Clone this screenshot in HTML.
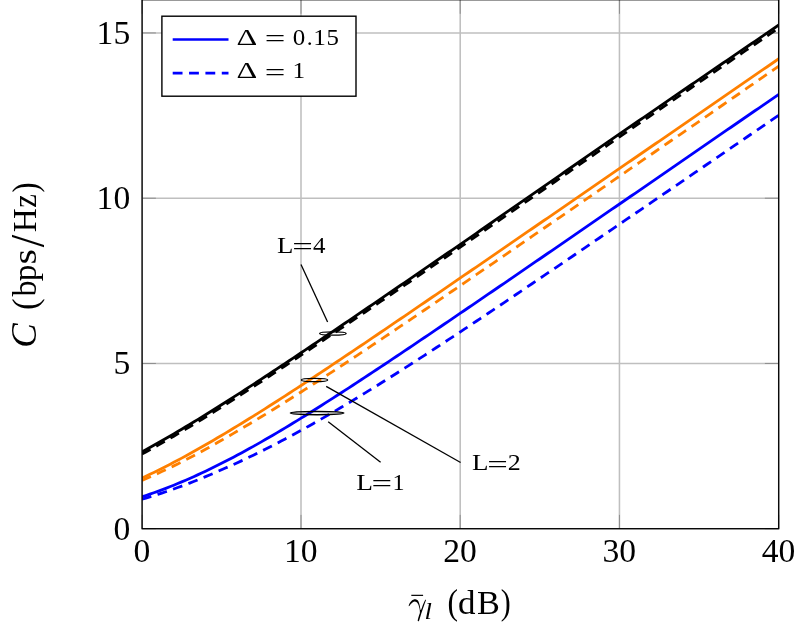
<!DOCTYPE html>
<html><head><meta charset="utf-8"><title>Capacity</title>
<style>
html,body{margin:0;padding:0;background:#fff;}
svg{display:block;will-change:transform;}
svg text{font-family:"Liberation Serif",serif;fill:#000;}
</style></head><body>
<svg width="806" height="634" viewBox="0 0 806 634">
<rect x="0" y="0" width="806" height="634" fill="#fff"/>
<g>
<line x1="142.10" y1="0" x2="142.10" y2="528.70" stroke="#bfbfbf" stroke-width="1.55"/>
<line x1="301.00" y1="0" x2="301.00" y2="528.70" stroke="#bfbfbf" stroke-width="1.55"/>
<line x1="460.20" y1="0" x2="460.20" y2="528.70" stroke="#bfbfbf" stroke-width="1.55"/>
<line x1="619.45" y1="0" x2="619.45" y2="528.70" stroke="#bfbfbf" stroke-width="1.55"/>
<line x1="778.70" y1="0" x2="778.70" y2="528.70" stroke="#bfbfbf" stroke-width="1.55"/>
<line x1="142.10" y1="528.70" x2="778.70" y2="528.70" stroke="#bfbfbf" stroke-width="1.55"/>
<line x1="142.10" y1="363.45" x2="778.70" y2="363.45" stroke="#bfbfbf" stroke-width="1.55"/>
<line x1="142.10" y1="198.20" x2="778.70" y2="198.20" stroke="#bfbfbf" stroke-width="1.55"/>
<line x1="142.10" y1="32.95" x2="778.70" y2="32.95" stroke="#bfbfbf" stroke-width="1.55"/>
</g>
<g>
<line x1="142.10" y1="528.70" x2="142.10" y2="514.90" stroke="#808080" stroke-width="0.8"/>
<line x1="142.10" y1="0" x2="142.10" y2="13.80" stroke="#808080" stroke-width="0.8"/>
<line x1="301.00" y1="528.70" x2="301.00" y2="514.90" stroke="#808080" stroke-width="0.8"/>
<line x1="301.00" y1="0" x2="301.00" y2="13.80" stroke="#808080" stroke-width="0.8"/>
<line x1="460.20" y1="528.70" x2="460.20" y2="514.90" stroke="#808080" stroke-width="0.8"/>
<line x1="460.20" y1="0" x2="460.20" y2="13.80" stroke="#808080" stroke-width="0.8"/>
<line x1="619.45" y1="528.70" x2="619.45" y2="514.90" stroke="#808080" stroke-width="0.8"/>
<line x1="619.45" y1="0" x2="619.45" y2="13.80" stroke="#808080" stroke-width="0.8"/>
<line x1="778.70" y1="528.70" x2="778.70" y2="514.90" stroke="#808080" stroke-width="0.8"/>
<line x1="778.70" y1="0" x2="778.70" y2="13.80" stroke="#808080" stroke-width="0.8"/>
<line x1="142.10" y1="528.70" x2="155.90" y2="528.70" stroke="#808080" stroke-width="0.8"/>
<line x1="778.70" y1="528.70" x2="764.90" y2="528.70" stroke="#808080" stroke-width="0.8"/>
<line x1="142.10" y1="363.45" x2="155.90" y2="363.45" stroke="#808080" stroke-width="0.8"/>
<line x1="778.70" y1="363.45" x2="764.90" y2="363.45" stroke="#808080" stroke-width="0.8"/>
<line x1="142.10" y1="198.20" x2="155.90" y2="198.20" stroke="#808080" stroke-width="0.8"/>
<line x1="778.70" y1="198.20" x2="764.90" y2="198.20" stroke="#808080" stroke-width="0.8"/>
<line x1="142.10" y1="32.95" x2="155.90" y2="32.95" stroke="#808080" stroke-width="0.8"/>
<line x1="778.70" y1="32.95" x2="764.90" y2="32.95" stroke="#808080" stroke-width="0.8"/>
</g>
<defs><clipPath id="c"><rect x="142.10" y="0" width="636.60" height="528.70"/></clipPath></defs>
<g clip-path="url(#c)" stroke-linejoin="round">
<path d="M141.90,496.87 L145.88,495.55 L149.86,494.18 L153.84,492.78 L157.82,491.34 L161.80,489.86 L165.78,488.35 L169.76,486.79 L173.75,485.20 L177.73,483.57 L181.71,481.91 L185.69,480.21 L189.67,478.47 L193.65,476.70 L197.63,474.90 L201.61,473.06 L205.59,471.18 L209.57,469.28 L213.55,467.34 L217.53,465.37 L221.51,463.37 L225.49,461.34 L229.47,459.28 L233.45,457.19 L237.44,455.08 L241.42,452.94 L245.40,450.77 L249.38,448.58 L253.36,446.36 L257.34,444.12 L261.32,441.86 L265.30,439.57 L269.28,437.27 L273.26,434.94 L277.24,432.60 L281.22,430.23 L285.20,427.85 L289.18,425.45 L293.16,423.03 L297.14,420.60 L301.12,418.15 L305.11,415.69 L309.09,413.22 L313.07,410.73 L317.05,408.22 L321.03,405.71 L325.01,403.18 L328.99,400.65 L332.97,398.10 L336.95,395.54 L340.93,392.97 L344.91,390.40 L348.89,387.81 L352.87,385.22 L356.85,382.62 L360.83,380.01 L364.82,377.39 L368.80,374.77 L372.78,372.14 L376.76,369.51 L380.74,366.87 L384.72,364.22 L388.70,361.57 L392.68,358.91 L396.66,356.25 L400.64,353.58 L404.62,350.91 L408.60,348.24 L412.58,345.56 L416.56,342.88 L420.54,340.20 L424.52,337.51 L428.50,334.82 L432.49,332.13 L436.47,329.43 L440.45,326.73 L444.43,324.03 L448.41,321.33 L452.39,318.62 L456.37,315.91 L460.35,313.20 L464.33,310.49 L468.31,307.78 L472.29,305.06 L476.27,302.35 L480.25,299.63 L484.23,296.91 L488.21,294.19 L492.19,291.47 L496.18,288.74 L500.16,286.02 L504.14,283.29 L508.12,280.57 L512.10,277.84 L516.08,275.11 L520.06,272.38 L524.04,269.65 L528.02,266.92 L532.00,264.19 L535.98,261.46 L539.96,258.73 L543.94,255.99 L547.92,253.26 L551.90,250.53 L555.88,247.79 L559.87,245.06 L563.85,242.32 L567.83,239.59 L571.81,236.85 L575.79,234.11 L579.77,231.38 L583.75,228.64 L587.73,225.90 L591.71,223.16 L595.69,220.42 L599.67,217.69 L603.65,214.95 L607.63,212.21 L611.61,209.47 L615.59,206.73 L619.58,203.99 L623.56,201.25 L627.54,198.51 L631.52,195.77 L635.50,193.03 L639.48,190.29 L643.46,187.55 L647.44,184.81 L651.42,182.07 L655.40,179.32 L659.38,176.58 L663.36,173.84 L667.34,171.10 L671.32,168.36 L675.30,165.62 L679.28,162.88 L683.26,160.13 L687.25,157.39 L691.23,154.65 L695.21,151.91 L699.19,149.17 L703.17,146.42 L707.15,143.68 L711.13,140.94 L715.11,138.20 L719.09,135.46 L723.07,132.71 L727.05,129.97 L731.03,127.23 L735.01,124.49 L738.99,121.74 L742.97,119.00 L746.96,116.26 L750.94,113.52 L754.92,110.77 L758.90,108.03 L762.88,105.29 L766.86,102.54 L770.84,99.80 L774.82,97.06 L778.80,94.32" fill="none" stroke="#0000ff" stroke-width="2.8"/>
<path d="M141.90,499.25 L145.88,498.08 L149.86,496.88 L153.84,495.64 L157.82,494.37 L161.80,493.07 L165.78,491.74 L169.76,490.37 L173.75,488.98 L177.73,487.55 L181.71,486.09 L185.69,484.59 L189.67,483.07 L193.65,481.51 L197.63,479.93 L201.61,478.31 L205.59,476.66 L209.57,474.98 L213.55,473.27 L217.53,471.53 L221.51,469.76 L225.49,468.04 L229.47,466.28 L233.45,464.50 L237.44,462.69 L241.42,460.86 L245.40,458.99 L249.38,457.10 L253.36,455.19 L257.34,453.24 L261.32,451.28 L265.30,449.29 L269.28,447.27 L273.26,445.23 L277.24,443.17 L281.22,441.08 L285.20,438.98 L289.18,436.85 L293.16,434.70 L297.14,432.53 L301.12,430.34 L305.11,428.14 L309.09,425.92 L313.07,423.68 L317.05,421.42 L321.03,419.14 L325.01,416.85 L328.99,414.54 L332.97,412.22 L336.95,409.88 L340.93,407.53 L344.91,405.16 L348.89,402.78 L352.87,400.38 L356.85,397.97 L360.83,395.55 L364.82,393.12 L368.80,390.68 L372.78,388.23 L376.76,385.75 L380.74,383.26 L384.72,380.76 L388.70,378.25 L392.68,375.73 L396.66,373.20 L400.64,370.67 L404.62,368.13 L408.60,365.57 L412.58,363.01 L416.56,360.45 L420.54,357.88 L424.52,355.30 L428.50,352.71 L432.49,350.12 L436.47,347.52 L440.45,344.91 L444.43,342.30 L448.41,339.69 L452.39,337.07 L456.37,334.44 L460.35,331.81 L464.33,329.17 L468.31,326.52 L472.29,323.87 L476.27,321.22 L480.25,318.56 L484.23,315.90 L488.21,313.23 L492.19,310.57 L496.18,307.90 L500.16,305.22 L504.14,302.54 L508.12,299.86 L512.10,297.18 L516.08,294.50 L520.06,291.81 L524.04,289.12 L528.02,286.43 L532.00,283.74 L535.98,281.04 L539.96,278.35 L543.94,275.65 L547.92,272.95 L551.90,270.25 L555.88,267.54 L559.87,264.84 L563.85,262.13 L567.83,259.43 L571.81,256.72 L575.79,254.01 L579.77,251.30 L583.75,248.59 L587.73,245.88 L591.71,243.16 L595.69,240.45 L599.67,237.73 L603.65,235.02 L607.63,232.30 L611.61,229.58 L615.59,226.87 L619.58,224.15 L623.56,221.43 L627.54,218.71 L631.52,215.99 L635.50,213.27 L639.48,210.55 L643.46,207.83 L647.44,205.11 L651.42,202.39 L655.40,199.67 L659.38,196.95 L663.36,194.22 L667.34,191.50 L671.32,188.78 L675.30,186.05 L679.28,183.33 L683.26,180.61 L687.25,177.88 L691.23,175.16 L695.21,172.43 L699.19,169.71 L703.17,166.98 L707.15,164.26 L711.13,161.53 L715.11,158.81 L719.09,156.08 L723.07,153.36 L727.05,150.63 L731.03,147.90 L735.01,145.18 L738.99,142.45 L742.97,139.73 L746.96,137.00 L750.94,134.27 L754.92,131.55 L758.90,128.82 L762.88,126.09 L766.86,123.36 L770.84,120.64 L774.82,117.91 L778.80,115.18" fill="none" stroke="#0000ff" stroke-width="2.8" stroke-dasharray="9.82 6.54"/>
<path d="M141.90,478.02 L145.88,476.18 L149.86,474.30 L153.84,472.39 L157.82,470.45 L161.80,468.47 L165.78,466.46 L169.76,464.42 L173.75,462.35 L177.73,460.25 L181.71,458.12 L185.69,455.97 L189.67,453.78 L193.65,451.57 L197.63,449.34 L201.61,447.08 L205.59,444.80 L209.57,442.49 L213.55,440.17 L217.53,437.82 L221.51,435.45 L225.49,433.09 L229.47,430.71 L233.45,428.31 L237.44,425.90 L241.42,423.47 L245.40,421.02 L249.38,418.56 L253.36,416.08 L257.34,413.59 L261.32,411.09 L265.30,408.58 L269.28,406.05 L273.26,403.51 L277.24,400.97 L281.22,398.41 L285.20,395.84 L289.18,393.26 L293.16,390.68 L297.14,388.08 L301.12,385.48 L305.11,382.87 L309.09,380.25 L313.07,377.63 L317.05,375.00 L321.03,372.36 L325.01,369.72 L328.99,367.07 L332.97,364.42 L336.95,361.76 L340.93,359.10 L344.91,356.44 L348.89,353.77 L352.87,351.09 L356.85,348.41 L360.83,345.73 L364.82,343.05 L368.80,340.36 L372.78,337.67 L376.76,334.97 L380.74,332.27 L384.72,329.58 L388.70,326.87 L392.68,324.17 L396.66,321.46 L400.64,318.75 L404.62,316.04 L408.60,313.33 L412.58,310.62 L416.56,307.90 L420.54,305.19 L424.52,302.47 L428.50,299.75 L432.49,297.03 L436.47,294.31 L440.45,291.58 L444.43,288.86 L448.41,286.13 L452.39,283.41 L456.37,280.68 L460.35,277.95 L464.33,275.22 L468.31,272.49 L472.29,269.76 L476.27,267.03 L480.25,264.30 L484.23,261.56 L488.21,258.83 L492.19,256.10 L496.18,253.36 L500.16,250.63 L504.14,247.89 L508.12,245.16 L512.10,242.42 L516.08,239.68 L520.06,236.95 L524.04,234.21 L528.02,231.47 L532.00,228.74 L535.98,226.00 L539.96,223.26 L543.94,220.52 L547.92,217.78 L551.90,215.04 L555.88,212.30 L559.87,209.56 L563.85,206.82 L567.83,204.08 L571.81,201.34 L575.79,198.60 L579.77,195.86 L583.75,193.12 L587.73,190.38 L591.71,187.64 L595.69,184.90 L599.67,182.16 L603.65,179.42 L607.63,176.68 L611.61,173.93 L615.59,171.19 L619.58,168.45 L623.56,165.71 L627.54,162.97 L631.52,160.23 L635.50,157.48 L639.48,154.74 L643.46,152.00 L647.44,149.26 L651.42,146.52 L655.40,143.77 L659.38,141.03 L663.36,138.29 L667.34,135.55 L671.32,132.80 L675.30,130.06 L679.28,127.32 L683.26,124.58 L687.25,121.83 L691.23,119.09 L695.21,116.35 L699.19,113.61 L703.17,110.86 L707.15,108.12 L711.13,105.38 L715.11,102.64 L719.09,99.89 L723.07,97.15 L727.05,94.41 L731.03,91.67 L735.01,88.92 L738.99,86.18 L742.97,83.44 L746.96,80.69 L750.94,77.95 L754.92,75.21 L758.90,72.47 L762.88,69.72 L766.86,66.98 L770.84,64.24 L774.82,61.49 L778.80,58.75" fill="none" stroke="#ff8000" stroke-width="2.8"/>
<path d="M141.90,480.50 L145.88,478.78 L149.86,477.03 L153.84,475.25 L157.82,473.44 L161.80,471.60 L165.78,469.72 L169.76,467.81 L173.75,465.88 L177.73,463.91 L181.71,461.92 L185.69,459.90 L189.67,457.85 L193.65,455.74 L197.63,453.61 L201.61,451.45 L205.59,449.27 L209.57,447.06 L213.55,444.83 L217.53,442.58 L221.51,440.31 L225.49,438.01 L229.47,435.69 L233.45,433.35 L237.44,431.00 L241.42,428.67 L245.40,426.33 L249.38,423.97 L253.36,421.60 L257.34,419.21 L261.32,416.80 L265.30,414.37 L269.28,411.94 L273.26,409.48 L277.24,407.02 L281.22,404.54 L285.20,402.05 L289.18,399.54 L293.16,397.03 L297.14,394.50 L301.12,391.96 L305.11,389.42 L309.09,386.86 L313.07,384.30 L317.05,381.72 L321.03,379.14 L325.01,376.55 L328.99,373.95 L332.97,371.34 L336.95,368.73 L340.93,366.11 L344.91,363.48 L348.89,360.85 L352.87,358.21 L356.85,355.57 L360.83,352.92 L364.82,350.27 L368.80,347.61 L372.78,344.95 L376.76,342.28 L380.74,339.61 L384.72,336.93 L388.70,334.25 L392.68,331.57 L396.66,328.89 L400.64,326.20 L404.62,323.51 L408.60,320.81 L412.58,318.12 L416.56,315.42 L420.54,312.71 L424.52,310.01 L428.50,307.30 L432.49,304.59 L436.47,301.88 L440.45,299.17 L444.43,296.46 L448.41,293.74 L452.39,291.02 L456.37,288.30 L460.35,285.58 L464.33,282.86 L468.31,280.14 L472.29,277.42 L476.27,274.69 L480.25,271.96 L484.23,269.24 L488.21,266.51 L492.19,263.78 L496.18,261.05 L500.16,258.32 L504.14,255.59 L508.12,252.86 L512.10,250.12 L516.08,247.39 L520.06,244.66 L524.04,241.92 L528.02,239.19 L532.00,236.45 L535.98,233.71 L539.96,230.98 L543.94,228.24 L547.92,225.50 L551.90,222.76 L555.88,220.03 L559.87,217.29 L563.85,214.55 L567.83,211.81 L571.81,209.07 L575.79,206.33 L579.77,203.59 L583.75,200.85 L587.73,198.11 L591.71,195.37 L595.69,192.63 L599.67,189.89 L603.65,187.14 L607.63,184.40 L611.61,181.66 L615.59,178.92 L619.58,176.18 L623.56,173.44 L627.54,170.69 L631.52,167.95 L635.50,165.21 L639.48,162.47 L643.46,159.72 L647.44,156.98 L651.42,154.24 L655.40,151.49 L659.38,148.75 L663.36,146.01 L667.34,143.26 L671.32,140.52 L675.30,137.78 L679.28,135.03 L683.26,132.29 L687.25,129.55 L691.23,126.80 L695.21,124.06 L699.19,121.32 L703.17,118.56 L707.15,115.80 L711.13,113.04 L715.11,110.28 L719.09,107.52 L723.07,104.76 L727.05,102.00 L731.03,99.24 L735.01,96.49 L738.99,93.73 L742.97,90.97 L746.96,88.21 L750.94,85.45 L754.92,82.69 L758.90,79.93 L762.88,77.17 L766.86,74.41 L770.84,71.65 L774.82,68.89 L778.80,66.13" fill="none" stroke="#ff8000" stroke-width="2.8" stroke-dasharray="9.82 6.54"/>
<path d="M141.90,451.78 L145.88,449.62 L149.86,447.44 L153.84,445.23 L157.82,443.00 L161.80,440.75 L165.78,438.48 L169.76,436.18 L173.75,433.87 L177.73,431.53 L181.71,429.18 L185.69,426.81 L189.67,424.42 L193.65,422.01 L197.63,419.59 L201.61,417.16 L205.59,414.70 L209.57,412.24 L213.55,409.76 L217.53,407.27 L221.51,404.76 L225.49,402.25 L229.47,399.72 L233.45,397.18 L237.44,394.63 L241.42,392.07 L245.40,389.50 L249.38,386.92 L253.36,384.34 L257.34,381.74 L261.32,379.14 L265.30,376.53 L269.28,373.92 L273.26,371.29 L277.24,368.66 L281.22,366.03 L285.20,363.39 L289.18,360.74 L293.16,358.09 L297.14,355.43 L301.12,352.77 L305.11,350.11 L309.09,347.44 L313.07,344.76 L317.05,342.09 L321.03,339.41 L325.01,336.72 L328.99,334.03 L332.97,331.34 L336.95,328.65 L340.93,325.95 L344.91,323.26 L348.89,320.56 L352.87,317.85 L356.85,315.15 L360.83,312.44 L364.82,309.73 L368.80,307.02 L372.78,304.30 L376.76,301.59 L380.74,298.87 L384.72,296.16 L388.70,293.44 L392.68,290.72 L396.66,287.99 L400.64,285.27 L404.62,282.55 L408.60,279.82 L412.58,277.10 L416.56,274.37 L420.54,271.64 L424.52,268.91 L428.50,266.18 L432.49,263.45 L436.47,260.72 L440.45,257.99 L444.43,255.26 L448.41,252.52 L452.39,249.79 L456.37,247.06 L460.35,244.32 L464.33,241.56 L468.31,238.80 L472.29,236.04 L476.27,233.28 L480.25,230.52 L484.23,227.76 L488.21,224.99 L492.19,222.23 L496.18,219.47 L500.16,216.71 L504.14,213.94 L508.12,211.18 L512.10,208.42 L516.08,205.65 L520.06,202.89 L524.04,200.12 L528.02,197.36 L532.00,194.59 L535.98,191.83 L539.96,189.06 L543.94,186.31 L547.92,183.55 L551.90,180.79 L555.88,178.03 L559.87,175.28 L563.85,172.52 L567.83,169.76 L571.81,167.00 L575.79,164.25 L579.77,161.49 L583.75,158.73 L587.73,155.97 L591.71,153.21 L595.69,150.45 L599.67,147.70 L603.65,144.94 L607.63,142.18 L611.61,139.42 L615.59,136.66 L619.58,133.90 L623.56,131.17 L627.54,128.44 L631.52,125.72 L635.50,122.99 L639.48,120.26 L643.46,117.53 L647.44,114.80 L651.42,112.07 L655.40,109.34 L659.38,106.61 L663.36,103.88 L667.34,101.15 L671.32,98.42 L675.30,95.69 L679.28,92.96 L683.26,90.23 L687.25,87.50 L691.23,84.77 L695.21,82.05 L699.19,79.32 L703.17,76.60 L707.15,73.89 L711.13,71.17 L715.11,68.46 L719.09,65.74 L723.07,63.03 L727.05,60.31 L731.03,57.60 L735.01,54.88 L738.99,52.17 L742.97,49.45 L746.96,46.74 L750.94,44.02 L754.92,41.31 L758.90,38.59 L762.88,35.88 L766.86,33.16 L770.84,30.45 L774.82,27.73 L778.80,25.02" fill="none" stroke="#000000" stroke-width="2.8"/>
<path d="M141.90,454.06 L145.88,451.91 L149.86,449.74 L153.84,447.54 L157.82,445.32 L161.80,443.07 L165.78,440.80 L169.76,438.51 L173.75,436.20 L177.73,433.87 L181.71,431.52 L185.69,429.15 L189.67,426.77 L193.65,424.36 L197.63,421.94 L201.61,419.51 L205.59,417.06 L209.57,414.59 L213.55,412.11 L217.53,409.62 L221.51,407.12 L225.49,404.60 L229.47,402.07 L233.45,399.53 L237.44,396.98 L241.42,394.42 L245.40,391.85 L249.38,389.27 L253.36,386.68 L257.34,384.09 L261.32,381.49 L265.30,378.88 L269.28,376.26 L273.26,373.63 L277.24,371.00 L281.22,368.37 L285.20,365.72 L289.18,363.08 L293.16,360.42 L297.14,357.77 L301.12,355.10 L305.11,352.45 L309.09,349.79 L313.07,347.13 L317.05,344.46 L321.03,341.79 L325.01,339.12 L328.99,336.44 L332.97,333.76 L336.95,331.08 L340.93,328.40 L344.91,325.71 L348.89,323.02 L352.87,320.33 L356.85,317.64 L360.83,314.94 L364.82,312.24 L368.80,309.54 L372.78,306.84 L376.76,304.14 L380.74,301.43 L384.72,298.73 L388.70,296.02 L392.68,293.31 L396.66,290.60 L400.64,287.89 L404.62,285.18 L408.60,282.47 L412.58,279.75 L416.56,277.04 L420.54,274.32 L424.52,271.60 L428.50,268.89 L432.49,266.17 L436.47,263.45 L440.45,260.73 L444.43,258.01 L448.41,255.29 L452.39,252.57 L456.37,249.85 L460.35,247.12 L464.33,244.37 L468.31,241.62 L472.29,238.87 L476.27,236.11 L480.25,233.36 L484.23,230.61 L488.21,227.85 L492.19,225.10 L496.18,222.34 L500.16,219.59 L504.14,216.83 L508.12,214.08 L512.10,211.32 L516.08,208.57 L520.06,205.81 L524.04,203.05 L528.02,200.30 L532.00,197.54 L535.98,194.78 L539.96,192.03 L543.94,189.27 L547.92,186.51 L551.90,183.76 L555.88,181.00 L559.87,178.24 L563.85,175.48 L567.83,172.73 L571.81,169.97 L575.79,167.21 L579.77,164.45 L583.75,161.69 L587.73,158.93 L591.71,156.18 L595.69,153.42 L599.67,150.66 L603.65,147.90 L607.63,145.14 L611.61,142.38 L615.59,139.62 L619.58,136.87 L623.56,134.14 L627.54,131.41 L631.52,128.68 L635.50,125.95 L639.48,123.22 L643.46,120.49 L647.44,117.76 L651.42,115.03 L655.40,112.30 L659.38,109.57 L663.36,106.84 L667.34,104.11 L671.32,101.39 L675.30,98.66 L679.28,95.93 L683.26,93.20 L687.25,90.47 L691.23,87.74 L695.21,85.01 L699.19,82.28 L703.17,79.56 L707.15,76.85 L711.13,74.13 L715.11,71.42 L719.09,68.70 L723.07,65.99 L727.05,63.27 L731.03,60.56 L735.01,57.85 L738.99,55.13 L742.97,52.42 L746.96,49.70 L750.94,46.99 L754.92,44.27 L758.90,41.56 L762.88,38.84 L766.86,36.13 L770.84,33.41 L774.82,30.70 L778.80,27.98" fill="none" stroke="#000000" stroke-width="2.8" stroke-dasharray="9.82 6.54"/>
</g>
<g>
<rect x="142.10" y="-0.25" width="636.60" height="528.95" fill="none" stroke="#000" stroke-width="1.3"/>
</g>
<g>
<text x="141.90" y="561.8" font-size="33.6" text-anchor="middle">0</text>
<text x="300.80" y="561.8" font-size="33.6" text-anchor="middle">10</text>
<text x="460.00" y="561.8" font-size="33.6" text-anchor="middle">20</text>
<text x="619.25" y="561.8" font-size="33.6" text-anchor="middle">30</text>
<text x="778.50" y="561.8" font-size="33.6" text-anchor="middle">40</text>
<text x="130.2" y="539.70" font-size="33.6" text-anchor="end">0</text>
<text x="130.2" y="374.45" font-size="33.6" text-anchor="end">5</text>
<text x="130.2" y="209.20" font-size="33.6" text-anchor="end">10</text>
<text x="130.2" y="43.95" font-size="33.6" text-anchor="end">15</text>
</g>
<g>
<ellipse cx="332.9" cy="333.5" rx="13.3" ry="1.65" fill="none" stroke="#000" stroke-width="1.35"/>
<ellipse cx="314.5" cy="380" rx="13.2" ry="1.65" fill="none" stroke="#000" stroke-width="1.35"/>
<ellipse cx="317.1" cy="413.1" rx="26.8" ry="1.65" fill="none" stroke="#000" stroke-width="1.35"/>
<line x1="327.6" y1="321.9" x2="301.0" y2="264.6" stroke="#000" stroke-width="1.3"/>
<line x1="326.2" y1="386.4" x2="460.6" y2="462.5" stroke="#000" stroke-width="1.3"/>
<line x1="328.2" y1="421.8" x2="380.6" y2="462.2" stroke="#000" stroke-width="1.3"/>
<text transform="translate(277.03,252.60) scale(1.132,1.000)" font-size="23.7">L</text>
<text transform="translate(292.28,255.02) scale(1.541,1.046)" font-size="23.7">=</text>
<text transform="translate(313.01,252.60) scale(1.053,1.000)" font-size="23.7">4</text>
<text transform="translate(472.02,470.40) scale(1.140,1.000)" font-size="23.7">L</text>
<text transform="translate(487.28,472.82) scale(1.541,1.046)" font-size="23.7">=</text>
<text transform="translate(507.86,470.40) scale(1.095,1.000)" font-size="23.7">2</text>
<text transform="translate(356.31,489.60) scale(1.156,1.000)" font-size="23.7">L</text>
<text transform="translate(371.58,492.02) scale(1.541,1.046)" font-size="23.7">=</text>
<text transform="translate(392.48,489.60) scale(1.019,1.000)" font-size="23.7">1</text>
</g>
<g>
<rect x="161.9" y="16.2" width="194.1" height="80" fill="#fff" stroke="#000" stroke-width="1.4"/>
<line x1="172.7" y1="39.5" x2="228.5" y2="39.5" stroke="#0000ff" stroke-width="2.6"/>
<line x1="172.7" y1="73.1" x2="228.5" y2="73.1" stroke="#0000ff" stroke-width="2.6" stroke-dasharray="9.82 6.54"/>
<text transform="translate(236.47,44.60) scale(1.384,1.000)" font-size="23.3">Δ</text>
<text transform="translate(264.68,47.01) scale(1.568,1.049)" font-size="23.3">=</text>
<text transform="translate(292.65,44.60) scale(1.073,1.000)" font-size="23.3">0</text>
<text transform="translate(306.84,44.60) scale(1.017,1.000)" font-size="23.3">.</text>
<text transform="translate(313.18,44.60) scale(1.085,1.000)" font-size="23.3">1</text>
<text transform="translate(326.46,44.60) scale(1.065,1.000)" font-size="23.3">5</text>
<text transform="translate(236.47,78.10) scale(1.384,1.000)" font-size="23.3">Δ</text>
<text transform="translate(264.68,80.51) scale(1.568,1.049)" font-size="23.3">=</text>
<text transform="translate(292.58,78.10) scale(1.085,1.000)" font-size="23.3">1</text>
</g>
<g>
<path d="M408.71,605.86 C408.79,605.34 409.26,603.89 409.79,602.98 C410.32,602.07 411.04,601.04 411.89,600.40 C412.73,599.76 413.91,599.15 414.88,599.14 C415.85,599.13 416.93,599.45 417.70,600.34 C418.47,601.23 418.98,602.86 419.50,604.48 C420.01,606.09 420.23,610.00 420.81,610.05 C421.39,610.10 422.27,606.42 422.97,604.78 C423.67,603.13 424.59,600.99 425.01,600.16 C425.43,599.33 425.34,599.80 425.49,599.80 C425.64,599.80 426.15,599.23 425.91,600.16 C425.67,601.09 424.68,603.56 424.05,605.38 C423.42,607.19 422.73,609.27 422.13,611.07 C421.53,612.87 420.97,614.56 420.45,616.16 C419.93,617.76 419.40,619.83 419.02,620.65 C418.64,621.48 418.40,621.18 418.18,621.13 C417.96,621.08 417.60,621.18 417.70,620.35 C417.80,619.53 418.41,617.48 418.78,616.16 C419.15,614.84 419.82,613.79 419.91,612.45 C420.01,611.10 419.69,609.47 419.38,608.07 C419.07,606.67 418.56,605.07 418.06,604.06 C417.56,603.05 416.94,602.46 416.38,602.02 C415.82,601.58 415.35,601.36 414.70,601.42 C414.05,601.48 413.20,601.85 412.49,602.38 C411.77,602.91 410.92,603.98 410.39,604.60 C409.86,605.22 409.59,605.88 409.31,606.09 C409.03,606.30 408.63,606.37 408.71,605.86Z" fill="#000"><title>gamma</title></path>
<line x1="411.3" y1="595.35" x2="423.1" y2="595.35" stroke="#000" stroke-width="1.2"/>
<text transform="translate(424.58,619.00) scale(1.134,1.000)" font-size="23.5" font-style="italic">l</text>
<text transform="translate(447.41,614.45) scale(0.956,1.103)" font-size="33">(</text>
<text transform="translate(457.94,613.80) scale(1.060,1.000)" font-size="33">d</text>
<text transform="translate(477.01,613.80) scale(1.039,1.000)" font-size="33">B</text>
<text transform="translate(500.63,614.45) scale(0.908,1.103)" font-size="33">)</text>
<g transform="translate(36.2,346) rotate(-90)">
<text transform="translate(-1.84,0.07) scale(1.108,1.083)" font-size="33" font-style="italic">C</text>
<text transform="translate(36.08,0.30) scale(1.050,1.096)" font-size="33">(</text>
<text transform="translate(49.40,0.00) scale(0.971,1.000)" font-size="33">b</text>
<text transform="translate(64.86,0.00) scale(1.008,1.000)" font-size="33">p</text>
<text transform="translate(81.57,0.00) scale(1.204,1.000)" font-size="33">s</text>
<text transform="translate(98.70,7.33) scale(1.352,1.472)" font-size="33">/</text>
<text transform="translate(113.75,0.00) scale(1.004,1.000)" font-size="33">H</text>
<text transform="translate(138.18,0.00) scale(0.927,1.000)" font-size="33">z</text>
<text transform="translate(153.43,0.30) scale(0.908,1.096)" font-size="33">)</text>
</g>
</g>
</svg>
</body></html>
